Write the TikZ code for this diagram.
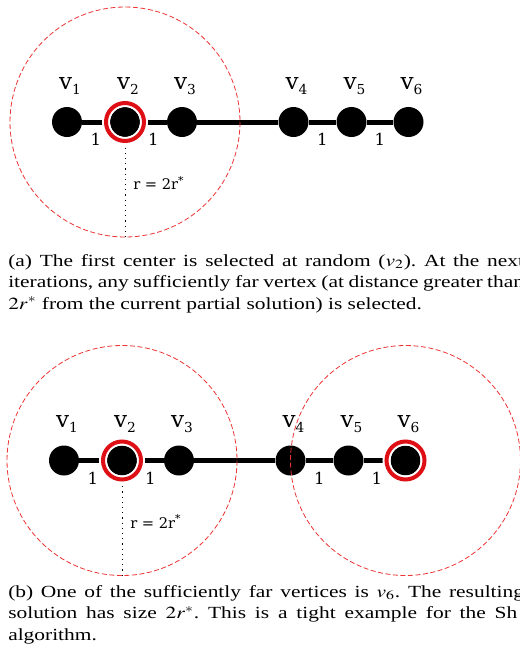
\documentclass[tikz,border=0pt]{standalone}
\usepackage{mathptmx}
\usepackage{fontspec}
\setmainfont{Liberation Serif}
\newfontfamily\graphfont{DejaVu Serif}
\usepackage{graphicx}
\usepackage{tikz}
\usetikzlibrary{calc,positioning}
\definecolor{ballred}{RGB}{236,52,52}
\definecolor{ringred}{RGB}{222,16,22}
\frenchspacing
\newcommand{\vsub}[1]{\raisebox{-3.75pt}{\fontsize{10.3}{12}\selectfont #1}}
\newcommand{\pathgraph}{%
  % Six vertices on a line; the step from v3 to v4 is twice the others.
  \foreach \vx/\vi in {0/1,58/2,115/3,226.5/4,284.5/5,341.5/6}{%
    \node[vertex] (v\vi) at (\vx,0) {};
    \node[vlabel, above=9pt of v\vi, xshift=2.2pt] (l\vi) {v\vsub{\vi}};
  }%
  \draw[edge] (v1) -- node[weight] {1} (v2) -- node[weight] {1} (v3)
    -- (v4) -- node[weight] {1} (v5) -- node[weight] {1} (v6);
}
\tikzset{
  vertex/.style={circle, fill=black, minimum size=22.5pt, inner sep=0pt},
  edge/.style={line width=3.75pt},
  weight/.style={font={\graphfont\fontsize{12.4}{14}\selectfont},
    inner sep=0pt, below=6.75pt},
  vlabel/.style={font={\graphfont\fontsize{17.3}{20}\selectfont}, inner sep=0pt},
  rlabel/.style={font={\graphfont\fontsize{11}{13}\selectfont}, inner sep=0pt},
  ring/.style={draw=ringred, line width=3pt,
    preaction={draw=white, line width=6pt}},
  cover/.style={draw=ballred, line width=0.6pt, dash pattern=on 3.75pt off 1.9pt},
  reach/.style={line width=0.7pt, dash pattern=on 0.9pt off 3pt},
  captext/.style={anchor=base west, inner sep=0pt,
    font=\fontsize{12.75}{15}\selectfont},
}

\begin{document}
\begin{tikzpicture}[x=0.75pt, y=-0.75pt, line cap=butt]
  \useasboundingbox (0,0) rectangle (520,657);
  \clip (0,0) rectangle (520,657);

  % First step: only v2 is a centre.
  \begin{scope}[shift={(67,122)}]
    \pathgraph
    \coordinate (rfoot) at ($(v2)+(0,115)$);
    \draw[cover] (v2) circle[radius=115];
    \draw[reach] (v2) -- (rfoot);
    \draw[ring] (v2) circle[radius=19];
    \node[rlabel, right=6pt] (rlab) at ($(v2)!0.53!(rfoot)$)
      {r = 2r\textsuperscript{*}};
  \end{scope}

  \node[captext] (capa1) at (8,266) {\scalebox{1.26}[1]{\hbox to 307pt{%
    (a) The first center is selected at random ($v_2$). At the next}}};
  \node[captext] (capa2) at (8,287.5) {\scalebox{1.26}[1]{\hbox to 307pt{%
    iterations, any sufficiently far vertex (at distance greater than}}};
  \node[captext] (capa3) at (8,309) {\scalebox{1.26}[1]{%
    $2r^*$ from the current partial solution) is selected.}};

  % Second step: v6 is far enough and gets its own ball.
  \begin{scope}[shift={(64,460.5)}]
    \pathgraph
    \coordinate (rfoot) at ($(v2)+(0,115)$);
    \draw[cover] (v2) circle[radius=115];
    \draw[cover] (v6) circle[radius=115];
    \draw[reach] (v2) -- (rfoot);
    \draw[ring] (v2) circle[radius=19];
    \draw[ring] (v6) circle[radius=19];
    \node[rlabel, right=6pt] (rlab) at ($(v2)!0.53!(rfoot)$)
      {r = 2r\textsuperscript{*}};
  \end{scope}

  \node[captext] (capb1) at (8,597) {\scalebox{1.26}[1]{\hbox to 307pt{%
    (b) One of the sufficiently far vertices is $v_6$. The resulting}}};
  \node[captext] (capb2) at (8,618.5) {\scalebox{1.26}[1]{\hbox to 303pt{%
    solution has size $2r^*$. This is a tight example for the Sh}}};
  \node[captext] (capb3) at (8,640) {\scalebox{1.26}[1]{algorithm.}};
\end{tikzpicture}
\end{document}
